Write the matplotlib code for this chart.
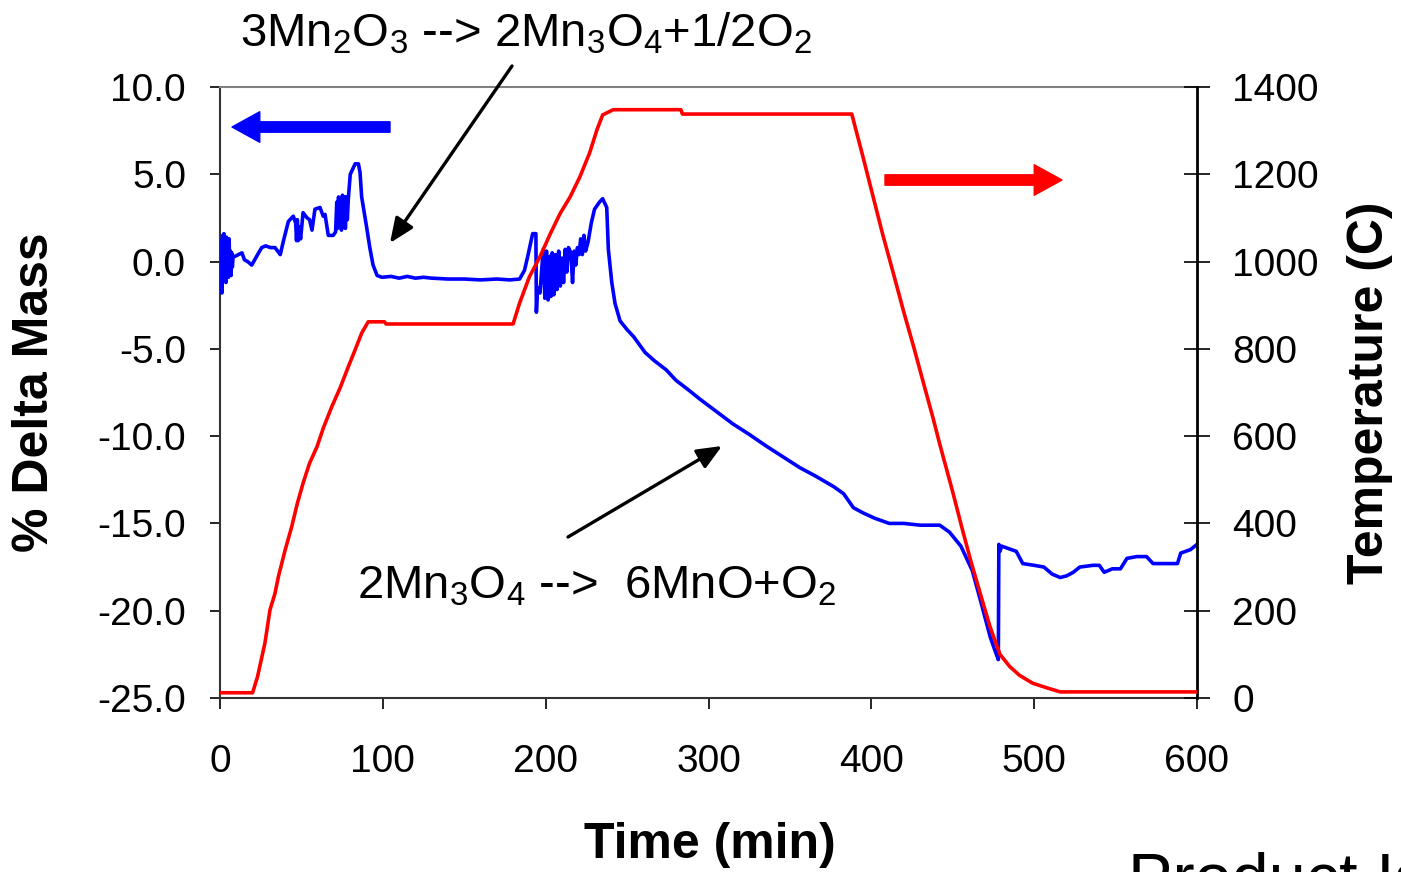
import matplotlib
matplotlib.use("Agg")
import matplotlib.pyplot as plt
from matplotlib.patches import FancyArrowPatch

plt.rcParams['font.family'] = ['Liberation Sans', 'DejaVu Sans']
plt.rcParams['mathtext.fontset'] = 'custom'
plt.rcParams['mathtext.rm'] = 'Liberation Sans'
plt.rcParams['mathtext.it'] = 'Liberation Sans'
plt.rcParams['mathtext.bf'] = 'Liberation Sans:bold'

# ---------------- data ----------------
# % Delta Mass (left axis)
mass_time = [0, 0.4, 0.8, 1.2, 1.6, 2.0, 2.4, 2.8, 3.2, 3.6, 4.0, 4.4, 4.8, 5.2, 5.6, 6.0,
             6.4, 6.8, 7.2, 7.6, 8.0,
             9.2, 13.5, 15, 17, 19.5, 22.5, 25.6, 28, 31, 33.8, 37, 39, 42, 45, 46.5, 47,
             47.5, 48, 48.5, 49.5, 51, 53.5, 55, 56.5, 58.3, 61.4, 63.4, 64.5, 66.5, 69.5,
             71, 71.7, 72.2, 72.8, 73.3, 74, 74.6, 75.2, 75.8, 76.5, 77, 77.6, 78.2, 78.8,
             80, 83, 85, 86, 87, 90, 92, 94, 96.5, 99.5, 105, 110, 115, 120, 125, 130, 140,
             150, 160, 170, 178, 184, 187, 189, 190.4, 192, 194, 194.3, 195, 196.5, 198.5,
             199.5, 200.5, 201.5, 202.5, 203.2, 204, 205, 206, 207, 208, 209, 210, 211, 212,
             213, 214, 215.5, 216.5, 217.5, 218.5, 219.5, 220.5, 221.5, 222.5, 223.5, 224.5,
             226, 228, 230, 233, 235, 237.5, 238.5, 240.6, 242.6, 245.7, 250, 254, 261, 267,
             274, 280, 287, 295, 305, 315, 325, 336, 346, 356, 366, 377, 383, 389, 395, 402,
             411, 420, 430, 442, 448, 455, 462, 467, 473, 476, 478, 478.3, 479, 480, 483,
             489, 493, 500, 506, 511, 516, 520, 524, 528, 536, 540, 543, 548, 553, 557, 563,
             569, 573, 580, 588, 590, 596, 600]
mass_pct = [1.2, -1.5, 1.0, -1.8, 1.5, -1.0, 1.6, -0.8, 0.8, -1.2, 1.4, -0.6, 0.9, -0.9,
            1.3, -0.5, 0.6, -0.8, 0.5, -0.3, 0.3,
            0.3, 0.5, 0.1, 0.0, -0.2, 0.3, 0.8, 0.9, 0.8, 0.8, 0.4, 1.2, 2.3, 2.6, 2.2, 1.2,
            2.4, 1.2, 2.0, 1.3, 2.8, 2.5, 2.4, 1.8, 3.0, 3.1, 2.6, 2.7, 1.5, 1.5,
            1.7, 3.4, 1.9, 3.7, 2.2, 3.6, 1.8, 3.8, 2.5, 3.7, 1.9, 3.7, 2.4, 3.6,
            5.0, 5.6, 5.6, 5.1, 3.7, 2.0, 0.8, -0.2, -0.8, -0.9, -0.85, -0.95, -0.85, -0.95,
            -0.9, -0.95, -1.0, -1.0, -1.05, -1.0, -1.05, -1.0, -0.5, 0.3, 0.9, 1.6, 1.6, -2.9,
            -1.5, -1.8, 0.7,
            -2.1, 0.6, -2.2, 0.3, -2.0, 0.5, -1.9, 0.4, -1.6, 0.6, -1.4, 0.2, -1.2, 0.7,
            -0.6, 0.8, 0.5, -1.2, 0.6, -0.2, 0.8, 0.4, 1.3, 0.4, 1.5, 0.6,
            1.1, 2.2, 3.0, 3.4, 3.6, 3.1, 0.7, -1.2, -2.4, -3.4, -3.9, -4.3, -5.2, -5.7,
            -6.2, -6.8, -7.3, -7.9, -8.6, -9.3, -9.9, -10.6, -11.2, -11.8, -12.3, -12.9,
            -13.3, -14.1, -14.4, -14.7,
            -15.0, -15.0, -15.1, -15.1, -15.5, -16.3, -17.7, -19.4, -21.5, -22.3, -22.8,
            -16.2, -16.6, -16.3, -16.4,
            -16.6, -17.3, -17.4, -17.5, -17.9, -18.1, -18.0, -17.8, -17.5, -17.4, -17.4,
            -17.8, -17.6, -17.6, -17.0, -16.9,
            -16.9, -17.3, -17.3, -17.3, -16.7, -16.5, -16.2]

# Temperature (right axis)
temp_time = [0, 20, 23, 27.6, 30.7, 33.8, 35.8, 40, 44, 47.5, 51, 55, 59.5, 63.5, 68.6,
             73.7, 78.8, 82.9, 87, 91, 101, 102, 180, 184, 190, 196.5, 203, 209, 215, 221,
             227, 231.5, 235, 241.5, 283, 284, 388, 395, 401, 407, 413.6, 419.8,
             425.9, 432, 438, 442, 450, 456, 461, 467, 473, 479, 485, 491, 499, 508, 516, 600]
temp_c = [12, 12, 48, 126, 202, 240, 277, 339, 392, 446, 492, 538, 575, 619, 667,
          710, 759, 797, 836, 862, 862, 857, 857, 905, 965, 1011, 1065, 1111, 1148, 1194,
          1249, 1302, 1336, 1348, 1348, 1338, 1338, 1238, 1150, 1062, 972, 886,
          806, 722, 640, 582, 472, 385, 315, 238, 162, 100, 72, 52, 34, 23, 14, 14]

x_ticks = [0, 100, 200, 300, 400, 500, 600]
mass_ticks = [-25, -20, -15, -10, -5, 0, 5, 10]
temp_ticks = [0, 200, 400, 600, 800, 1000, 1200, 1400]

reaction1 = "3Mn$_2$O$_3$ --> 2Mn$_3$O$_4$+1/2O$_2$"
reaction2 = "2Mn$_3$O$_4$ -->  6MnO+O$_2$"

# ---------------- figure ----------------
fig = plt.figure(figsize=(14.01, 8.72), dpi=100)
W, H = 1401, 872
L, R, T, B = 220, 1197, 87, 698
ax = fig.add_axes([L / W, 1 - B / H, (R - L) / W, (B - T) / H])
ax2 = ax.twinx()

ax.plot(mass_time, mass_pct, color='#0000FF', lw=2.6, zorder=3)
ax2.plot(temp_time, temp_c, color='#FF0000', lw=2.6, zorder=3)

ax.set_xlim(0, 600)
ax.set_ylim(-25, 10)
ax2.set_ylim(0, 1400)
ax.set_xticks(x_ticks)
ax.set_xticklabels([str(v) for v in x_ticks])
ax.set_yticks(mass_ticks)
ax.set_yticklabels([f"{v:.1f}" for v in mass_ticks])
ax2.set_yticks(temp_ticks)
ax2.set_yticklabels([str(v) for v in temp_ticks])

ax.tick_params(axis='x', direction='out', length=8, width=1.2, pad=25, labelsize=28)
ax.tick_params(axis='y', direction='out', length=7.5, width=1.2, pad=17, labelsize=28)
ax2.tick_params(axis='y', direction='inout', length=19, width=1.2, pad=16, labelsize=28)

for s in ['top', 'left', 'bottom']:
    ax2.spines[s].set_visible(False)
ax.spines['right'].set_visible(False)
ax.spines['top'].set_color('#808080')
ax.spines['top'].set_linewidth(1.5)
ax.spines['left'].set_color('#333333')
ax.spines['left'].set_linewidth(1.5)
ax.spines['bottom'].set_color('#333333')
ax.spines['bottom'].set_linewidth(1.5)
ax2.spines['right'].set_color('black')
ax2.spines['right'].set_linewidth(2)

ax.set_xlabel("Time (min)", fontsize=36, fontweight='bold')
ax.set_ylabel("% Delta Mass", fontsize=36, fontweight='bold')
ax2.set_ylabel("Temperature (C)", fontsize=36, fontweight='bold', rotation=90)
ax.xaxis.label.set_verticalalignment('center')
ax.yaxis.label.set_verticalalignment('center')
ax2.yaxis.label.set_verticalalignment('center')
ax.xaxis.set_label_coords((710 - L) / (R - L), (B - 845) / (B - T))
ax.yaxis.set_label_coords((35 - L) / (R - L), 0.5)
ax2.yaxis.set_label_coords((1370 - L) / (R - L), 0.5)

# direction arrows (thick)
def px2data(x, y):
    return ((x - L) / (R - L) * 600, 10 - (y - T) / (B - T) * 35)

a1 = FancyArrowPatch(px2data(390, 127), px2data(232, 127),
                     arrowstyle='simple,head_length=20,head_width=22,tail_width=7.5',
                     mutation_scale=1, color='#0000FF', shrinkA=0, shrinkB=0,
                     transform=ax.transData, zorder=5)
ax.add_patch(a1)
a2 = FancyArrowPatch(px2data(885, 180), px2data(1062, 180),
                     arrowstyle='simple,head_length=20,head_width=22,tail_width=7.5',
                     mutation_scale=1, color='#FF0000', shrinkA=0, shrinkB=0,
                     transform=ax.transData, zorder=5)
ax.add_patch(a2)

# reaction annotations
ax2.annotate('', xy=px2data(390, 243), xytext=px2data(512, 66), xycoords=ax.transData,
             textcoords=ax.transData, annotation_clip=False,
             arrowprops=dict(arrowstyle='-|>,head_length=0.75,head_width=0.32',
                             mutation_scale=20, lw=2.4, color='black',
                             shrinkA=0, shrinkB=0))
ax2.annotate('', xy=px2data(722, 446), xytext=px2data(568, 537), xycoords=ax.transData,
             textcoords=ax.transData, annotation_clip=False,
             arrowprops=dict(arrowstyle='-|>,head_length=0.75,head_width=0.32',
                             mutation_scale=20, lw=2.4, color='black',
                             shrinkA=0, shrinkB=0))

fig.text(526 / W, 1 - 47 / H, reaction1, fontsize=34, ha='center', va='baseline')
fig.text(597 / W, 1 - 598 / H, reaction2, fontsize=34, ha='center', va='baseline')
fig.text(1128 / W, 1 - 900 / H, "Product Is", fontsize=48, ha='left', va='baseline')

fig.savefig("out.png", dpi=100)
